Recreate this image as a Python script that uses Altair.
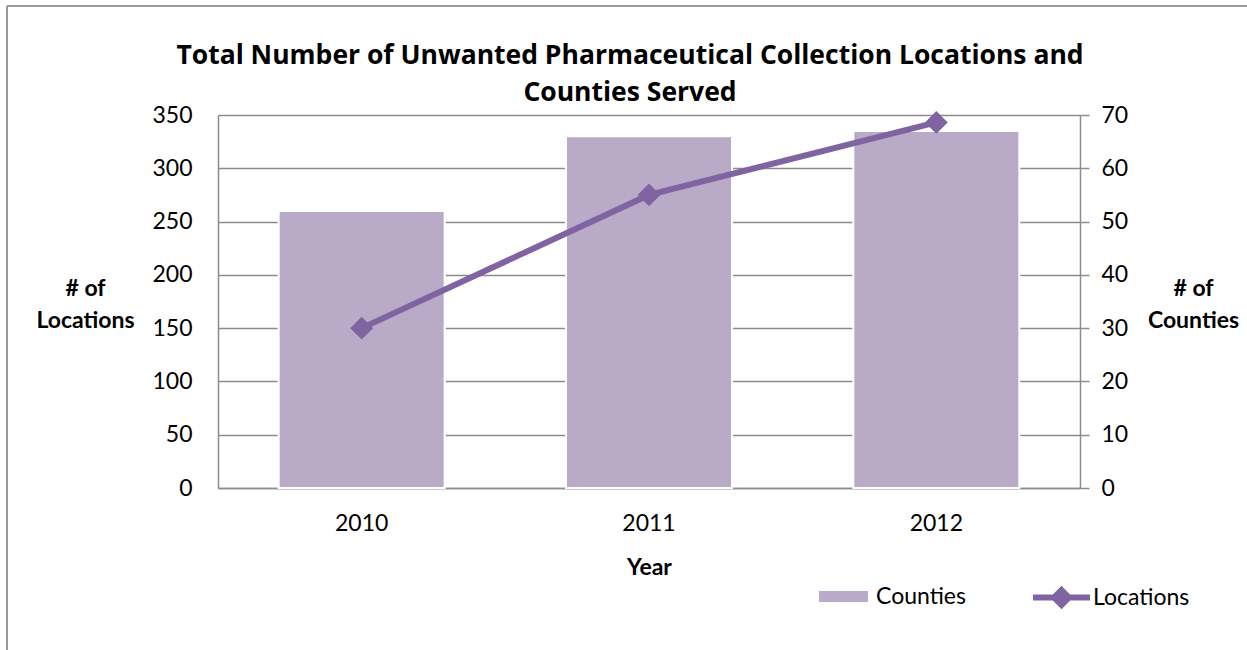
import altair as alt
import pandas as pd

years = ["2010", "2011", "2012"]
counties = [52, 66, 67]
locations = [150, 275, 343]
title_lines = ["Total Number of Unwanted Pharmaceutical Collection Locations and",
               "Counties Served"]

df = pd.DataFrame({"Year": years, "Counties": counties, "Locations": locations,
                   "s1": ["Counties"] * 3, "s2": ["Locations"] * 3})

BAR = "#B9AAC8"
LINE = "#8064A2"
GRID = "#8C8C8C"
FONT = "Lato"

W, H = 862, 373
PL, PT = 218, 115

x_enc = alt.X("Year:N", title="Year", sort=years,
              scale=alt.Scale(paddingInner=0.435, paddingOuter=0.2175),
              axis=alt.Axis(labelAngle=0, ticks=False, domainColor=GRID, domainWidth=1.5,
                            labelPadding=24, labelFontSize=23, titleFontSize=23,
                            titleFontWeight="bold", titlePadding=21, grid=False))

bars = alt.Chart(df).mark_bar(size=166, stroke="white", strokeWidth=2).encode(
    x=x_enc,
    y=alt.Y("Counties:Q", scale=alt.Scale(domain=[0, 70]),
            axis=alt.Axis(orient="right", values=list(range(0, 71, 10)), grid=True,
                          gridColor=GRID, gridWidth=1.5, domainColor=GRID, domainWidth=1.5,
                          tickColor=GRID, tickSize=9, tickWidth=1.5, labelPadding=12,
                          labelFontSize=23, title=["# of", "Counties"], titleAngle=0,
                          titleFontSize=23, titleFontWeight="bold", titleLineHeight=32,
                          titleX=113, titleY=173, titleAlign="center",
                          titleBaseline="middle")),
    fill=alt.Fill("s1:N", scale=alt.Scale(domain=["Counties"], range=[BAR]),
                  legend=alt.Legend(title=None, orient="none", legendX=601, legendY=457,
                                    symbolType="M-1,-0.225H1V0.225H-1Z", symbolSize=2401,
                                    symbolStrokeWidth=0, labelFontSize=23, labelOffset=8,
                                    labelFont=FONT)),
)

line = alt.Chart(df).mark_line(strokeWidth=6, point=alt.OverlayMarkDef(
    shape="diamond", size=520, filled=True, fill=LINE, strokeWidth=0)).encode(
    x=alt.X("Year:N", sort=years),
    y=alt.Y("Locations:Q", scale=alt.Scale(domain=[0, 350]),
            axis=alt.Axis(orient="left", values=list(range(0, 351, 50)), grid=False,
                          ticks=False, domainColor=GRID, domainWidth=1.5, labelPadding=26,
                          labelFontSize=23, title=["# of", "Locations"], titleAngle=0,
                          titleFontSize=23, titleFontWeight="bold", titleLineHeight=32,
                          titleX=-133, titleY=173, titleAlign="center",
                          titleBaseline="middle")),
    stroke=alt.Stroke("s2:N", scale=alt.Scale(domain=["Locations"], range=[LINE]),
                      legend=alt.Legend(title=None, orient="none", legendX=812, legendY=451,
                                        symbolType="M-1,0H1M0,-0.26L0.26,0L0,0.26L-0.26,0Z",
                                        symbolSize=3249, symbolStrokeWidth=6,
                                        symbolFillColor=LINE, labelFontSize=23,
                                        labelOffset=0, labelFont=FONT)),
)

title = alt.Chart(pd.DataFrame({"t": [title_lines]})).mark_text(
    font="Open Sans", fontSize=26.5, fontWeight="bold", color="black", align="center",
    baseline="alphabetic", lineHeight=37).encode(
    text="t", x=alt.value(630 - PL), y=alt.value(64 - PT))

frame_top = alt.Chart(df).mark_rule(color="#999999", strokeWidth=2).encode(
    x=alt.value(7 - PL), x2=alt.value(1247 - PL), y=alt.value(6 - PT))
frame_left = alt.Chart(df).mark_rule(color="#999999", strokeWidth=2).encode(
    x=alt.value(7 - PL), y=alt.value(6 - PT), y2=alt.value(650 - PT))

chart = alt.layer(bars, line, title, frame_top, frame_left).resolve_scale(
    y="independent", fill="independent", stroke="independent"
).properties(
    width=W, height=H,
    autosize=alt.AutoSizeParams(type="none"),
    padding={"left": PL, "top": PT, "right": 1247 - PL - W, "bottom": 650 - PT - H},
).configure_view(stroke=None).configure_axis(
    labelFont=FONT, titleFont=FONT, labelColor="black", titleColor="black"
).configure_legend(labelColor="black")

chart.save("out.html", embed_options={"renderer": "svg", "actions": False})
